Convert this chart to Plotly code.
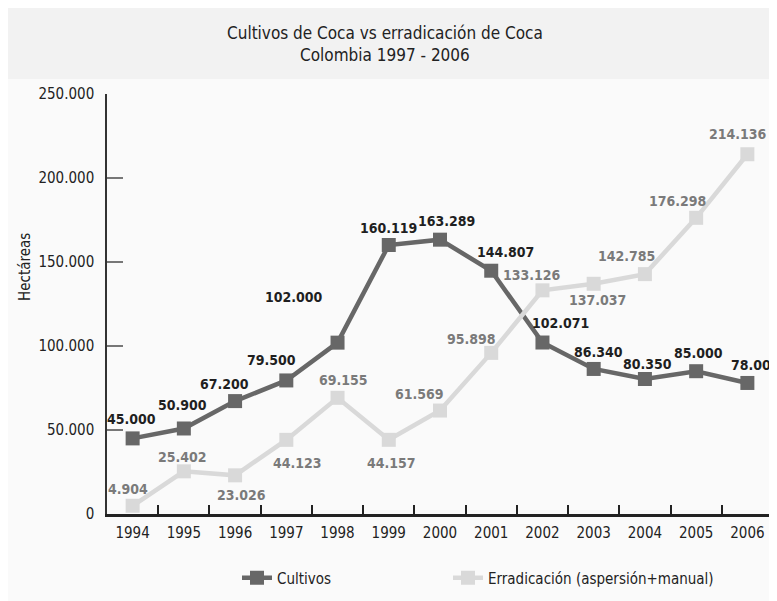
import plotly.graph_objects as go

years = ["1994", "1995", "1996", "1997", "1998", "1999", "2000",
         "2001", "2002", "2003", "2004", "2005", "2006"]
cultivos = [45000, 50900, 67200, 79500, 102000, 160119, 163289,
            144807, 102071, 86340, 80350, 85000, 78000]
erradicacion = [4904, 25402, 23026, 44123, 69155, 44157, 61569,
                95898, 133126, 137037, 142785, 176298, 214136]

# label offsets in pixels (dx right, dy down) relative to each point
cult_off = [(-1, -19), (-1, -23), (-11, -17), (-15, -20), (-44, -46), (0, -17),
            (6, -19), (14, -19), (18, -20), (5, -17), (3, -15), (2, -18), (8, -18)]
err_off = [(-5, -17), (-1, -14), (6, 20), (11, 23), (6, -18), (3, 23), (-21, -17),
           (-20, -14), (-10, -15), (4, 16), (-18, -18), (-19, -17), (-9, -20)]

FONT = "DejaVu Sans Condensed, DejaVu Sans, sans-serif"
DARK = "#676767"
LIGHT = "#d9d9d9"

W, H = 769, 593
L, R, T, B = 99, 4, 86, 87
pw, ph = W - L - R, H - T - B


def px(x):
    return (x - L) / pw


def py(y):
    return (H - B - y) / ph


def fmt(v):
    return "<b>" + f"{v:,}".replace(",", ".") + "</b>"


fig = go.Figure()
fig.add_trace(go.Scatter(
    x=years, y=cultivos, name="Cultivos", mode="lines+markers",
    line=dict(color=DARK, width=4.5),
    marker=dict(symbol="square", size=14, color=DARK),
    cliponaxis=False, legend="legend",
))
fig.add_trace(go.Scatter(
    x=years, y=erradicacion, name="Erradicación (aspersión+manual)",
    mode="lines+markers",
    line=dict(color=LIGHT, width=4.5),
    marker=dict(symbol="square", size=14, color=LIGHT),
    cliponaxis=False, legend="legend2",
))

annotations = []
for i, (v, (dx, dy)) in enumerate(zip(cultivos, cult_off)):
    annotations.append(dict(
        x=i, y=v, xref="x", yref="y", text=fmt(v), showarrow=False,
        xanchor="center", yanchor="middle", xshift=dx, yshift=-dy,
        font=dict(family=FONT, size=14, color="#1f1f1f")))
for i, (v, (dx, dy)) in enumerate(zip(erradicacion, err_off)):
    annotations.append(dict(
        x=i, y=v, xref="x", yref="y", text=fmt(v), showarrow=False,
        xanchor="center", yanchor="middle", xshift=dx, yshift=-dy,
        font=dict(family=FONT, size=14, color="#7a7a7a")))

annotations += [
    dict(text="Cultivos de Coca vs erradicación de Coca<br>Colombia 1997 - 2006",
         xref="paper", yref="paper", x=px(377), y=py(36.5), xanchor="center",
         yanchor="middle", showarrow=False,
         font=dict(family=FONT, size=17, color="#222222")),
    dict(text="Hectáreas", xref="paper", yref="paper", x=px(17), y=py(259),
         xanchor="center", yanchor="middle", textangle=-90, showarrow=False,
         font=dict(family=FONT, size=15, color="#222222")),
]

shapes = [
    dict(type="rect", xref="paper", yref="paper", x0=px(-2), x1=px(W + 2),
         y0=py(71), y1=py(-2), fillcolor="#f2f2f2", line=dict(width=0), layer="below"),
]

legend_common = dict(orientation="h", xanchor="left", yanchor="middle",
                     font=dict(family=FONT, size=15, color="#222222"),
                     bgcolor="rgba(0,0,0,0)")

fig.update_layout(
    width=W, height=H,
    margin=dict(l=L, r=R, t=T, b=B, autoexpand=False),
    paper_bgcolor="#fafafa", plot_bgcolor="rgba(0,0,0,0)",
    separators=",.",
    font=dict(family=FONT, size=15, color="#222222"),
    shapes=shapes,
    annotations=annotations,
    showlegend=True,
    legend=dict(x=px(229), y=py(570), **legend_common),
    legend2=dict(x=px(440), y=py(570), **legend_common),
)
fig.update_xaxes(
    type="category", range=[-0.5, 12.5], tickson="boundaries",
    ticks="inside", ticklen=9, tickwidth=1.5, tickcolor="#222222",
    showline=True, linecolor="#222222", linewidth=2.5, showgrid=False,
    ticklabelstandoff=3,
    tickfont=dict(family=FONT, size=15, color="#222222"),
)
fig.update_yaxes(
    range=[0, 250000], dtick=50000, tickformat=",.0f",
    ticks="inside", ticklen=16, tickwidth=1.5, tickcolor="#777777",
    showline=True, linecolor="#333333", linewidth=1.5, showgrid=False, zeroline=False,
    ticklabelstandoff=8,
    tickfont=dict(family=FONT, size=15, color="#222222"),
)

fig.write_html("out.html")
